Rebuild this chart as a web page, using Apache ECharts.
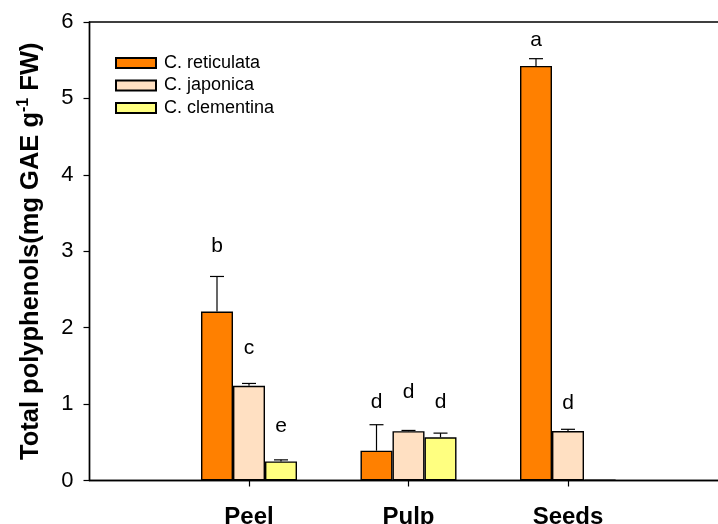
<!DOCTYPE html>
<html>
<head>
<meta charset="utf-8">
<script src="https://cdn.jsdelivr.net/npm/echarts@6/dist/echarts.min.js"></script>
<style>html,body{margin:0;padding:0;background:#fff;}#c{width:718px;height:524px;}</style>
</head>
<body>
<div id="c"></div>
<script>
// ---- data ----
var categories = ['', 'Peel', 'Pulp', 'Seeds', ''];
var seriesNames = ['C. reticulata', 'C. japonica', 'C. clementina'];
var reticulata = [null, 2.21, 0.39, 5.425, null];
var japonica   = [null, 1.24, 0.645, 0.648, null];
var clementina = [null, 0.25, 0.565, 0.01, null];
// upper error (SD) for Peel, Pulp, Seeds
var reticulataErr = [0.46, 0.34, 0.095];
var japonicaErr   = [0.03, 0.01, 0.022];
var clementinaErr = [0.02, 0.055, 0];
// significance letters and their heights (data units)
var reticulataLetters = ['b', 'd', 'a'];
var japonicaLetters   = ['c', 'd', 'd'];
var clementinaLetters = ['e', 'd', ''];
var reticulataLetterY = [3.06, 1.03, 5.757];
var japonicaLetterY   = [1.736, 1.152, 1.015];
var clementinaLetterY = [0.704, 1.031, 0];
var yTicks = [0, 1, 2, 3, 4, 5, 6];

var colors = ['#FF8000', '#FFE0C2', '#FFFF80'];
var values = [reticulata, japonica, clementina];
var errs = [reticulataErr, japonicaErr, clementinaErr];
var letters = [reticulataLetters, japonicaLetters, clementinaLetters];
var letterYs = [reticulataLetterY, japonicaLetterY, clementinaLetterY];

var FONT = 'Arial, "Liberation Sans", sans-serif';
var BAR_W = 32;

var series = [];
seriesNames.forEach(function (name, s) {
  series.push({
    name: name,
    type: 'bar',
    data: values[s],
    barWidth: BAR_W,
    barGap: '0%',
    itemStyle: { color: colors[s], borderColor: '#000', borderWidth: 1.4 },
    emphasis: { disabled: true },
    z: 2
  });
});
seriesNames.forEach(function (name, s) {
  var d = [];
  for (var i = 0; i < 3; i++) {
    var v = values[s][i + 1];
    d.push([i + 1, v, v + errs[s][i], letterYs[s][i], letters[s][i]]);
  }
  var offset = (s - 1) * BAR_W;
  series.push({
    type: 'custom',
    name: name + ' err',
    data: d,
    z: 3,
    silent: true,
    encode: { x: 0, y: [1, 2] },
    renderItem: function (params, api) {
      var x = api.value(0);
      var base = api.coord([x, api.value(1)]);
      var top = api.coord([x, api.value(2)]);
      var lp = api.coord([x, api.value(3)]);
      var cx = base[0] + offset;
      var children = [];
      if (api.value(2) - api.value(1) > 0.0001) {
        children.push({ type: 'line', shape: { x1: cx, y1: base[1], x2: cx, y2: top[1] }, style: { stroke: '#000', lineWidth: 1.2 } });
        children.push({ type: 'line', shape: { x1: cx - 7, y1: top[1], x2: cx + 7, y2: top[1] }, style: { stroke: '#000', lineWidth: 1.2 } });
      }
      var letter = d[params.dataIndex][4];
      if (letter) {
        children.push({ type: 'text', x: cx, y: lp[1], style: { text: letter, fill: '#000', font: '21px ' + FONT, align: 'center', verticalAlign: 'middle' } });
      }
      return { type: 'group', children: children };
    }
  });
});

var chart = echarts.init(document.getElementById('c'), null, { renderer: 'canvas' });
chart.setOption({
  animation: false,
  backgroundColor: '#fff',
  textStyle: { fontFamily: FONT },
  grid: { left: 89.5, top: 22, bottom: 43.5, width: 638, show: true, borderColor: '#000', borderWidth: 1.4, containLabel: false, outerBoundsMode: 'none' },
  legend: {
    data: seriesNames,
    orient: 'vertical',
    left: 115, top: 52,
    padding: 0,
    itemWidth: 40, itemHeight: 10, itemGap: 0.5,
    icon: 'rect',
    textStyle: { fontSize: 18, color: '#000', fontFamily: FONT, lineHeight: 22, padding: [0, 0, 0, 3] },
    selectedMode: false
  },
  xAxis: {
    type: 'category',
    data: categories,
    boundaryGap: false,
    axisLine: { lineStyle: { color: '#000', width: 1.4 } },
    axisTick: { show: true, length: 6, lineStyle: { color: '#000', width: 1.2 }, interval: function (i, v) { return v !== ''; } },
    axisLabel: { fontSize: 24, fontWeight: 'bold', color: '#000', margin: 25, fontFamily: FONT, interval: 0 },
    splitLine: { show: false }
  },
  yAxis: {
    type: 'value',
    min: yTicks[0], max: yTicks[yTicks.length - 1], interval: 1,
    axisLine: { show: true, lineStyle: { color: '#000', width: 1.4 } },
    axisTick: { show: true, length: 6, lineStyle: { color: '#000', width: 1.2 } },
    axisLabel: { fontSize: 22, color: '#000', margin: 16, fontFamily: FONT },
    splitLine: { show: false },
    name: '{t|Total polyphenols(mg GAE g}{s|-1}{t| FW)}',
    nameLocation: 'middle',
    nameGap: 44,
    nameTextStyle: {
      rich: {
        t: { fontSize: 25.5, fontWeight: 'bold', color: '#000', fontFamily: FONT, lineHeight: 30 },
        s: { fontSize: 16, fontWeight: 'bold', color: '#000', fontFamily: FONT, lineHeight: 13, verticalAlign: 'top' }
      }
    }
  },
  series: series
});
</script>
</body>
</html>
